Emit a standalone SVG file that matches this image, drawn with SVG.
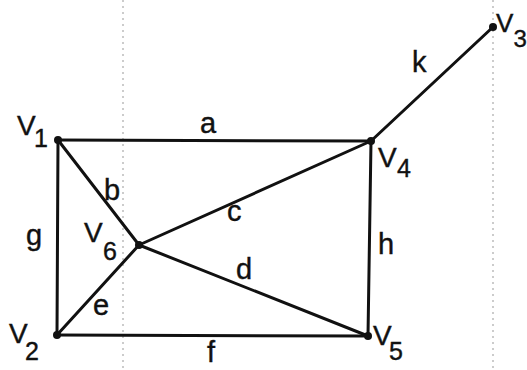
<svg xmlns="http://www.w3.org/2000/svg" width="527" height="370" viewBox="0 0 527 370">
<style>
.bg{fill:#ffffff}
.e{stroke:#111;stroke-width:3;stroke-linecap:round;fill:none}
.v{fill:#111}
.t{font-family:"Liberation Sans","DejaVu Sans",sans-serif;font-size:29px;fill:#111;stroke:#111;stroke-width:0.4}
.n{font-family:"Liberation Sans","DejaVu Sans",sans-serif;font-size:28px;fill:#111;stroke:#111;stroke-width:0.4}
.s{font-size:25px}
.dot{stroke:#999;stroke-width:1;stroke-dasharray:2 4;fill:none}
</style>
<rect class="bg" x="0" y="0" width="527" height="370"/>
<g id="guides">
<line class="dot" x1="123" y1="0" x2="123" y2="370"/>
<line class="dot" x1="493" y1="0" x2="493" y2="370"/>
</g>
<g id="connectors">
<line id="edge-a" class="e" x1="58" y1="140" x2="371" y2="141"/>
<line id="edge-k" class="e" x1="371" y1="141" x2="493" y2="27"/>
<line id="edge-g" class="e" x1="58" y1="140" x2="57" y2="335"/>
<line id="edge-b" class="e" x1="58" y1="140" x2="139" y2="245"/>
<line id="edge-c" class="e" x1="139" y1="245" x2="371" y2="141"/>
<line id="edge-d" class="e" x1="139" y1="245" x2="368" y2="336"/>
<line id="edge-e" class="e" x1="57" y1="335" x2="139" y2="245"/>
<line id="edge-f" class="e" x1="57" y1="335" x2="368" y2="336"/>
<line id="edge-h" class="e" x1="371" y1="141" x2="368" y2="336"/>
</g>
<g id="edge-labels">
<text class="t" x="200" y="133">a</text>
<text class="t" x="412" y="72">k</text>
<text class="t" x="104" y="200">b</text>
<text class="t" x="227" y="221">c</text>
<text class="t" x="26" y="245">g</text>
<text class="t" x="236" y="279">d</text>
<text class="t" x="93" y="315">e</text>
<text class="t" x="207" y="362">f</text>
<text class="t" x="378" y="254">h</text>
</g>
<g id="V1"><circle class="v" cx="58" cy="140" r="4"/><text class="n" x="17" y="135">V<tspan class="s" x="34" y="147">1</tspan></text></g>
<g id="V2"><circle class="v" cx="57" cy="335" r="4"/><text class="n" x="9" y="343">V<tspan class="s" x="25" y="360">2</tspan></text></g>
<g id="V3"><circle class="v" cx="493" cy="27" r="4"/><text class="n" x="496" y="32" style="font-size:26px">V<tspan style="font-size:24px" x="513.5" y="47">3</tspan></text></g>
<g id="V4"><circle class="v" cx="371" cy="141" r="4"/><text class="n" x="378" y="167">V<tspan class="s" x="397" y="177">4</tspan></text></g>
<g id="V5"><circle class="v" cx="368" cy="336" r="4"/><text class="n" x="373" y="345">V<tspan class="s" x="389" y="360">5</tspan></text></g>
<g id="V6"><circle class="v" cx="139" cy="245" r="4"/><text class="n" x="84" y="242">V<tspan class="s" x="103" y="260">6</tspan></text></g>
</svg>
